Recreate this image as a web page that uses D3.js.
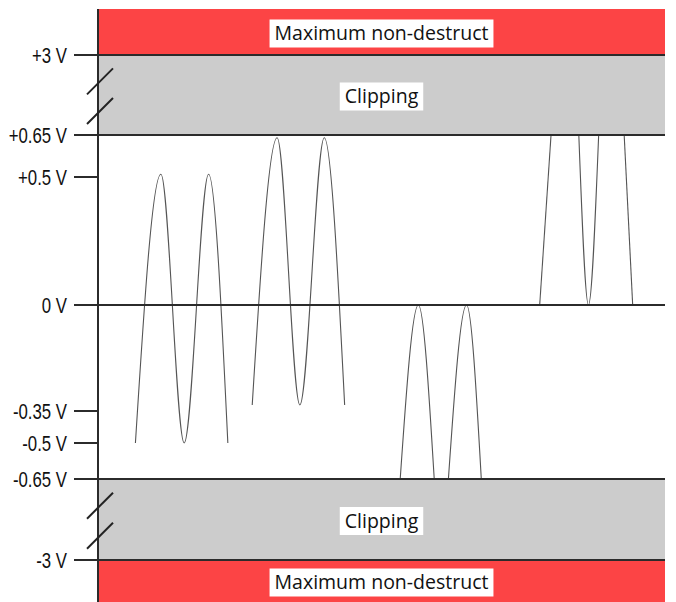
<!DOCTYPE html>
<html>
<head>
<meta charset="utf-8">
<script src="https://cdn.jsdelivr.net/npm/d3@7/dist/d3.min.js"></script>
<style>
  body { margin: 0; background: #fff; }
  .tick-label { font-family: "Liberation Sans", Arial, sans-serif; font-size: 21.5px; fill: #111; }
  .band-label { font-family: "Open Sans", "Noto Sans", sans-serif; font-size: 19.5px; fill: #111; }
</style>
</head>
<body>
<svg id="chart" width="676" height="602"></svg>
<script>
// voltage levels shown on the axis
var tickValues = [3, 0.65, 0.5, 0, -0.35, -0.5, -0.65, -3];
var tickLabels = ['+3 V', '+0.65 V', '+0.5 V', '0 V', '-0.35 V', '-0.5 V', '-0.65 V', '-3 V'];
// levels that get a full-width line (the others only a short tick)
var majorLevels = [3, 0.65, 0, -0.65, -3];

// bands: [low, high] in volts, null = open edge of the chart
var bandLimits = [[3, null], [0.65, 3], [-3, -0.65], [null, -3]];
var bandLabels = ['Maximum non-destruct', 'Clipping', 'Clipping', 'Maximum non-destruct'];
var bandKinds = ['destruct', 'clip', 'clip', 'destruct'];

// waveforms, [time, volts]; each wave is a list of visible segments
var waveInRange = [
    [[6.6, -0.5], [11.1, 0.51], [15.2, -0.5], [19.5, 0.51], [22.9, -0.5]]
];
var waveOffset = [
    [[27.2, -0.33], [31.6, 0.64], [35.6, -0.33], [39.9, 0.64], [43.5, -0.33]]
];
var waveClippedLow = [
    [[53.3, -0.65], [56.5, 0], [59.3, -0.65]],
    [[61.8, -0.65], [65.0, 0], [67.6, -0.65]]
];
var waveClippedHigh = [
    [[77.9, 0], [79.9, 0.65]],
    [[84.8, 0.65], [86.5, 0], [88.3, 0.65]],
    [[92.8, 0.65], [94.3, 0]]
];

var color = {destruct: '#fc4445', clip: '#cccccc', line: '#2b2b2b', wave: '#555555'};

var svg = d3.select('#chart'),
    margin = {top: 9, right: 11, bottom: 0, left: 98},
    width = 676 - margin.left - margin.right,
    height = 602 - margin.top - margin.bottom;

var g = svg.append('g').attr('transform', 'translate(' + margin.left + ',' + margin.top + ')');

var x = d3.scaleLinear().domain([0, 100]).range([0, width]);

// the scale is broken: each stretch between labelled levels gets its own size
var y = d3.scaleLinear()
    .domain([-3, -0.65, -0.5, -0.35, 0, 0.5, 0.65, 3])
    .range([551, 470, 434, 402, 296, 168, 126, 46]);

function bandY(v, fallback) {
    return v === null ? fallback : y(v);
}

// bands
var band = g.selectAll('.band')
    .data(bandLimits)
    .enter().append('g')
    .attr('class', 'band');

band.append('rect')
    .attr('x', 0)
    .attr('width', width)
    .attr('y', function (d) { return bandY(d[1], 0); })
    .attr('height', function (d) { return bandY(d[0], height) - bandY(d[1], 0); })
    .attr('fill', function (d, i) { return color[bandKinds[i]]; });

// waves
var line = d3.line()
    .x(function (d) { return x(d[0]); })
    .y(function (d) { return y(d[1]); })
    .curve(d3.curveMonotoneX);

var segments = [].concat(waveInRange, waveOffset, waveClippedLow, waveClippedHigh);
g.append('g')
    .selectAll('path')
    .data(segments)
    .enter().append('path')
    .attr('d', line)
    .attr('fill', 'none')
    .attr('stroke', color.wave)
    .attr('stroke-width', 1.1);

// level lines and ticks
g.append('g')
    .selectAll('line')
    .data(tickValues)
    .enter().append('line')
    .attr('x1', -24)
    .attr('x2', function (d) { return majorLevels.indexOf(d) >= 0 ? width : 0; })
    .attr('y1', function (d) { return y(d); })
    .attr('y2', function (d) { return y(d); })
    .attr('stroke', color.line)
    .attr('stroke-width', 2);

// labels are squeezed horizontally, like a narrow face
g.append('g')
    .selectAll('text')
    .data(tickValues)
    .enter().append('text')
    .attr('class', 'tick-label')
    .attr('transform', function (d) { return 'translate(-31,' + y(d) + ') scale(0.78,1)'; })
    .attr('dy', '0.36em')
    .attr('text-anchor', 'end')
    .text(function (d, i) { return tickLabels[i]; });

// vertical axis
g.append('line')
    .attr('x1', 0).attr('x2', 0)
    .attr('y1', 0).attr('y2', height)
    .attr('stroke', color.line)
    .attr('stroke-width', 2);

// break marks on the clipping bands
bandLimits.forEach(function (d, i) {
    if (bandKinds[i] !== 'clip') return;
    var top = y(d[1]), h = y(d[0]) - y(d[1]);
    [0.33, 0.7].forEach(function (f) {
        var cy = top + f * h;
        g.append('line')
            .attr('x1', -11).attr('y1', cy + 13)
            .attr('x2', 15).attr('y2', cy - 13)
            .attr('stroke', '#222')
            .attr('stroke-width', 2);
    });
});

// band labels in white boxes
band.each(function (d, i) {
    var top = bandY(d[1], 0), bottom = bandY(d[0], height);
    var cy = (top + bottom) / 2 + 1.5;
    var grp = d3.select(this);
    var box = grp.append('rect').attr('fill', '#fff');
    var txt = grp.append('text')
        .attr('class', 'band-label')
        .attr('x', width / 2)
        .attr('y', cy)
        .attr('dy', '0.35em')
        .attr('text-anchor', 'middle')
        .text(bandLabels[i]);
    var w = txt.node().getComputedTextLength();
    box.attr('x', width / 2 - w / 2 - 5)
        .attr('width', w + 10)
        .attr('y', cy - 14)
        .attr('height', 28);
});
</script>
</body>
</html>
